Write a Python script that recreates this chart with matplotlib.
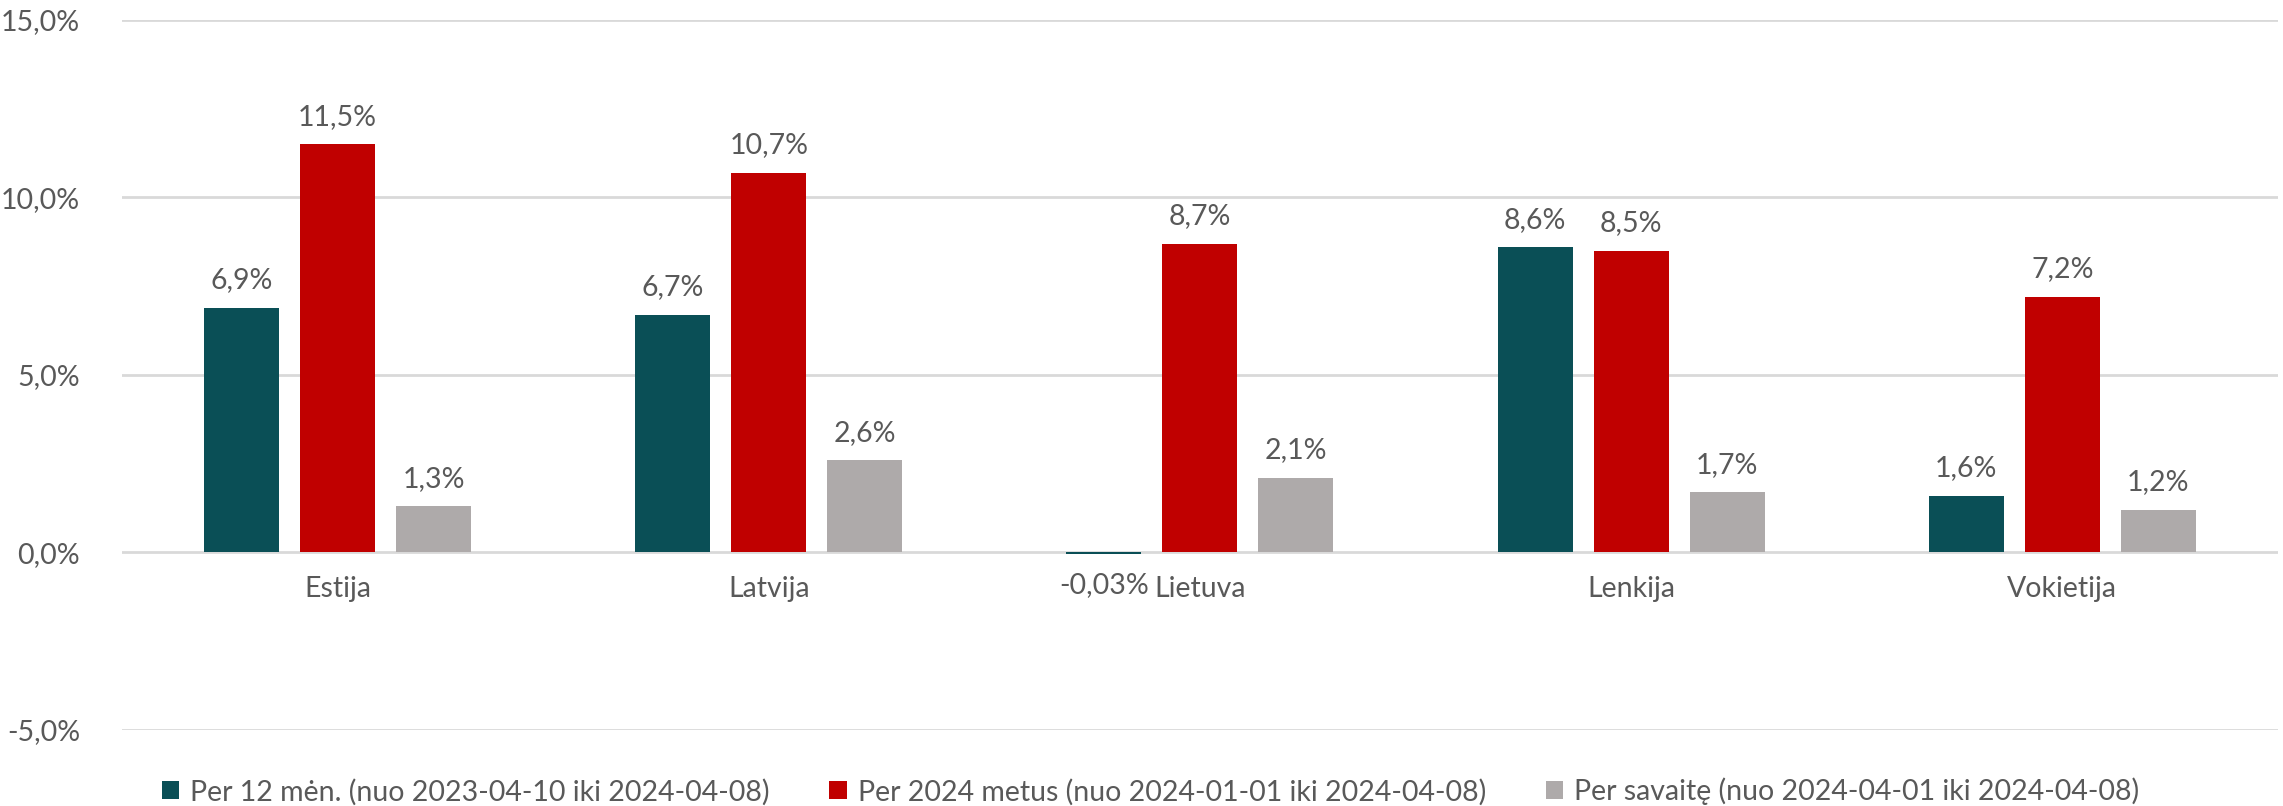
import numpy as np
import matplotlib
matplotlib.use('Agg')
import matplotlib.pyplot as plt
from matplotlib.ticker import FuncFormatter

plt.rcParams['font.family'] = ['Lato', 'DejaVu Sans']

# ── Data ──────────────────────────────────────────────────────────────────────
COUNTRIES = ['Estija', 'Latvija', 'Lietuva', 'Lenkija', 'Vokietija']
Y12M  = [6.9, 6.7, -0.03, 8.6, 1.6]
YTD   = [11.5, 10.7, 8.7, 8.5, 7.2]
WEEK  = [1.3, 2.6, 2.1, 1.7, 1.2]
SERIES_LABELS = [
    'Per 12 mėn. (nuo 2023-04-10 iki 2024-04-08)',
    'Per 2024 metus (nuo 2024-01-01 iki 2024-04-08)',
    'Per savaitę (nuo 2024-04-01 iki 2024-04-08)',
]
COLORS = ['#0A4F56', '#C00000', '#AEAAAA']
TEXT_C = '#595959'


def pct(v, decimals=1):
    return f'{v:.{decimals}f}%'.replace('.', ',')


fig = plt.figure(figsize=(22.83, 8.06), dpi=100)
ax = fig.add_axes([0.0534, 0.0943, 0.9444, 0.8809])

x = np.arange(len(COUNTRIES))
width = 0.174
step = 0.2226

for i, (vals, color, lab) in enumerate(zip([Y12M, YTD, WEEK], COLORS, SERIES_LABELS)):
    xs = x + (i - 1) * step
    ax.bar(xs, vals, width=width, color=color, label=lab, zorder=3)
    for xi, v in zip(xs, vals):
        txt = pct(v, 2) if abs(v) < 0.1 else pct(v)
        if v >= 0:
            ax.annotate(txt, (xi, v), xytext=(0, 14), textcoords='offset points',
                        ha='center', va='baseline', fontsize=20.5, color=TEXT_C)
        else:
            ax.annotate(txt, (xi, 0), xytext=(0, -14), textcoords='offset points',
                        ha='center', va='top', fontsize=20.5, color=TEXT_C)

ax.set_ylim(-5, 15)
ax.set_xlim(-0.5, len(COUNTRIES) - 0.5)
ax.set_yticks([-5, 0, 5, 10, 15])
ax.yaxis.set_major_formatter(FuncFormatter(lambda v, p: pct(v)))
ax.set_xticks(x)
ax.set_xticklabels(COUNTRIES)
ax.spines['bottom'].set_position(('data', 0))
ax.tick_params(axis='both', length=0, labelsize=20.5, labelcolor=TEXT_C)
ax.tick_params(axis='x', pad=17)
ax.tick_params(axis='y', pad=30)
ax.grid(axis='y', color='#D9D9D9', lw=2, zorder=0)
for s in ax.spines.values():
    s.set_visible(False)

leg = fig.legend(loc='center', bbox_to_anchor=(0.504, 0.018), ncol=3, frameon=False,
                 fontsize=20.5, handlelength=0.6, handleheight=0.6,
                 handletextpad=0.4, columnspacing=2.1)
for t in leg.get_texts():
    t.set_color(TEXT_C)

fig.savefig('out.png', dpi=100)
